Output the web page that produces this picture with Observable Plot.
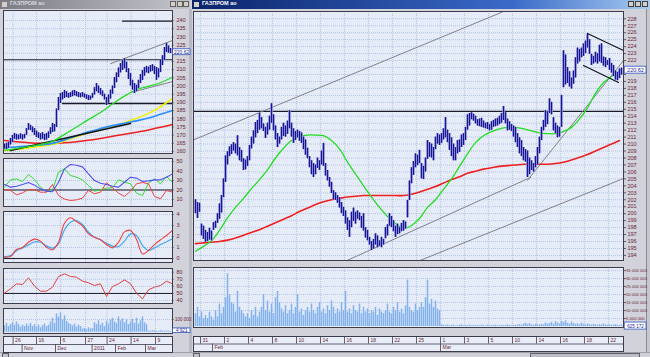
<!DOCTYPE html>
<html><head><meta charset="utf-8">
<script src="https://cdn.jsdelivr.net/npm/d3@7"></script>
<script src="https://cdn.jsdelivr.net/npm/@observablehq/plot@0.6"></script>
<style>
html,body{margin:0;padding:0;width:650px;height:357px;overflow:hidden;background:#d4d4dc;}
#root{position:relative;width:650px;height:357px;overflow:hidden;background:#d2d2da;font-family:'Liberation Sans',Arial,sans-serif;}
#root svg{overflow:visible;}
</style></head><body><div id="root"></div>
<script>
// ---------- RIGHT WINDOW DATA (intraday bars, ГАЗПРОМ ао) ----------
const hi = [202.0,201.6,201.5,198.5,198.2,197.6,197.3,197.9,197.5,198.7,
198.9,200.0,201.4,202.6,205.0,208.3,208.9,209.6,209.9,210.2,
210.0,211.2,209.5,209.1,207.9,207.7,208.2,209.8,211.0,211.9,
213.1,213.4,214.4,213.8,212.9,212.4,213.0,214.0,215.8,214.2,
212.6,211.5,211.0,212.4,213.0,212.6,213.3,214.8,213.0,212.2,
211.8,212.0,211.8,
211.6,211.0,210.6,209.4,208.2,207.6,207.2,207.0,208.0,207.6,
209.0,210.1,207.2,206.2,205.2,204.5,203.3,203.0,202.6,202.3,
201.6,200.9,200.4,199.4,199.0,200.2,200.8,200.2,200.4,200.1,
199.6,200.0,198.0,197.6,196.6,196.0,196.3,197.1,196.8,196.1,
196.6,196.3,198.0,198.4,200.0,199.6,199.0,198.2,198.5,198.0,
198.6,199.0,198.8,201.9,204.7,
206.6,207.5,208.6,208.4,209.1,207.2,206.8,208.0,210.5,210.2,
210.0,209.5,211.0,211.5,211.3,211.5,212.2,213.8,212.0,211.5,
210.9,210.0,209.5,210.5,210.6,211.3,211.5,212.4,214.2,214.4,
214.5,214.3,214.0,213.5,213.6,213.7,213.3,213.0,213.1,212.8,
213.2,213.4,213.6,213.7,214.0,214.4,215.4,214.5,213.6,213.2,
212.8,212.6,212.4,211.5,210.9,210.5,209.5,209.2,209.0,208.0,
207.6,207.2,208.2,209.5,211.0,212.4,213.4,214.8,214.6,216.5,
216.0,213.8,213.0,212.6,212.4,217.0,223.4,222.8,221.0,220.4,
219.5,220.5,222.4,223.8,223.6,223.8,224.4,224.8,225.8,225.0,
222.9,222.6,223.2,223.0,224.2,224.4,222.5,222.4,222.0,222.3,
221.6,221.3,220.5,220.3,220.8,220.9];
const lo = [200.0,199.3,200.2,196.8,196.3,195.9,196.0,196.2,196.1,197.6,
197.9,198.6,199.2,200.1,202.3,204.5,207.0,208.2,208.5,209.0,
208.6,208.3,207.6,207.4,206.2,206.3,206.8,207.6,209.3,210.0,
210.9,211.5,212.0,212.2,211.8,210.8,211.3,212.0,213.0,211.9,
210.6,209.5,210.0,210.6,211.1,211.0,211.4,212.2,211.0,210.1,
210.5,210.9,210.4,
210.1,209.2,208.4,207.9,206.6,205.6,205.2,205.6,206.5,206.2,
207.0,206.8,205.4,204.7,203.8,202.9,202.0,201.9,201.5,200.8,
200.0,199.6,198.5,197.6,196.6,198.0,198.9,198.5,199.2,199.0,
197.9,197.5,196.5,196.1,195.5,194.7,194.9,195.5,195.1,195.3,
195.1,195.5,196.4,196.8,198.2,198.0,197.4,196.6,197.0,197.1,
197.4,197.5,197.8,199.4,201.9,
204.3,205.5,206.6,206.9,207.2,205.0,204.9,206.0,207.8,208.1,
208.0,207.6,209.2,210.0,209.8,210.1,210.6,210.9,210.2,209.1,
208.2,207.6,207.6,208.6,208.8,209.5,209.8,210.5,212.0,212.6,
213.5,213.3,212.9,212.6,212.5,212.4,212.3,212.2,212.1,211.9,
212.0,212.4,212.5,212.6,212.8,213.0,213.4,212.9,211.9,212.0,
211.8,211.0,210.2,209.5,208.6,208.2,207.6,207.4,205.2,205.6,
206.2,206.0,206.6,207.0,208.6,210.5,211.9,212.4,212.8,214.4,
214.2,211.9,211.5,210.9,211.0,212.4,218.1,218.5,218.7,218.2,
217.9,218.6,219.5,221.5,221.8,222.4,222.6,223.0,223.8,222.9,
221.3,221.5,221.7,221.5,221.8,221.6,221.2,221.0,221.3,220.6,
220.2,219.7,219.2,219.1,219.4,219.9];
// moving averages, one value every 4 bars
const maStep = 4;
const maGreen = [194.6,195.3,196.1,197.6,199.4,200.9,202.2,203.6,204.9,206.3,
208.0,209.4,210.5,211.1,211.3,211.3,211.2,210.5,209.3,207.4,
205.7,204.0,202.4,200.9,199.6,198.6,197.9,198.3,199.3,200.9,
202.0,203.5,205.0,206.8,208.6,210.2,211.2,211.8,212.2,212.4,
212.4,212.2,211.9,211.6,211.5,211.5,211.8,212.4,213.6,215.2,
217.3,218.8,219.7,220.5];
const maRed = [195.7,195.8,195.9,196.0,196.2,196.5,196.9,197.3,197.7,198.2,
198.7,199.2,199.7,200.3,200.8,201.3,201.7,202.0,202.2,202.4,
202.5,202.6,202.6,202.6,202.6,202.6,202.6,202.8,203.1,203.5,
203.9,204.4,204.9,205.3,205.8,206.1,206.4,206.6,206.8,206.9,
207.0,207.1,207.1,207.1,207.1,207.2,207.4,207.7,208.1,208.5,
209.0,209.5,210.0,210.5];
// volume, millions
const volume = [8,12,6,9,5, 7,5,9,6,4, 10,6,14,8,12, 18,33,20,15,
14,9,22,12,10,8, 6,8,5,10,7,12,6,9, 12,20,10,16,9,14,8, 18,22,15,11,9,13,8,
10,14,8,12,20,9,11,7,10,12, 9,14,10,8,12,15,9,11,8,13, 10,16,12,8,11,9,15,10,22,9,
11,8,13,10,9,14,8,12,9,11, 8,10,9,12,7,11,9,8,10,14,9,8,
12,10,15,9,11,8,13,29,12,10,9,14, 10,12,15,12,18,29,14,17,12,16,11,10,
1.2,0.8,0.6,1.0,0.5,0.7,0.9,0.4,0.6,0.8,1.1,0.5,0.7,0.6,0.9,0.5,0.8,0.6,
0.7,0.5,0.9,0.6,0.4,0.8,0.6,0.5,0.7,0.9,0.6,0.5,0.8,0.6,0.7,1.0,0.6,0.5,0.8,0.7,
0.9,1.2,0.8,1.5,2.0,1.2,1.8,1.0,0.8,1.4,1.1,0.9,1.3,1.0,2.2,1.5,1.8,2.6,1.4,3.0,
2.2,1.6,3.2,2.4,3.6,2.0,1.5,2.8,1.9,1.4,1.7,1.2,2.1,1.4,1.0,1.6,1.2,0.9,1.3,1.1,
0.8,1.2,0.9,1.5,1.0,0.8,1.1,0.7,0.9,1.2,0.8,0.6,1.0];
const lastPrice = 220.62;
const lastVolumeLabel = "625 172";
const levelLine = 214.7;
// trend lines [bar index, price]
const upperTrend = [[-1,210.6],[154,229.05]];
const lowerTrendA = [[76,193.3],[167.5,205.2]];
const lowerTrendB = [[112.5,193.3],[214,205.05]];
const steepTrend = [[166,204.8],[214,222.0]];
const channelTop = [[196,225.9],[214,223.45]];
const channelBottom = [[194,221.3],[211.5,218.85]];
const priceTicks = d3.range(194,229);
const priceLabelTicks = priceTicks.filter(t => Math.abs(t - lastPrice) > 0.9);
const volTicks = [5,10,15,20,25,30,35];
const dayStart = [2.5,14.5,26.5,38.5,50.5,62.5,74.5,86.5,98.5,110.5,122.5,134.5,146.5,158.5,170.5,182.5,194.5,206.5];
const dayLabels = ["31","2","4","8","10","14","16","18","22","25","1","3","5","10","14","16","18","22"];
const monthStart = [8.5,122.5];
const monthLabels = ["Feb","Mar"];

// ---------- LEFT WINDOW DATA (daily) ----------
const hiL = [164.5,165.0,165.5,168.0,169.8,171.0,170.5,170.0,170.8,170.2,
170.5,174.0,177.1,176.0,175.0,174.0,172.5,171.5,170.8,171.5,
170.5,171.0,172.0,174.5,177.1,176.5,186.0,193.0,195.4,196.0,
197.3,196.5,195.5,196.0,197.0,197.3,196.5,196.0,195.5,196.0,
195.2,194.6,194.2,193.8,195.5,199.0,201.5,200.0,198.5,197.0,
195.0,193.0,194.5,197.5,200.0,205.2,208.0,211.0,213.7,215.5,
216.8,214.5,210.5,207.6,203.5,201.5,200.5,203.5,207.0,209.5,
211.3,212.0,211.5,212.5,213.0,212.0,211.3,210.5,215.6,218.5,
223.5,226.0,224.5,222.9];
const loL = [161.5,161.2,162.0,164.0,165.5,167.5,167.0,167.2,167.6,167.0,
167.8,170.0,173.0,172.8,171.5,169.8,168.5,168.0,167.0,167.5,
166.7,167.0,168.0,170.5,171.6,172.0,174.7,185.0,189.3,191.5,
192.4,193.0,192.5,193.0,193.5,194.0,193.5,193.0,192.8,193.2,
192.6,191.8,191.1,191.4,192.5,194.5,196.5,195.4,194.5,193.5,
191.5,188.1,189.5,192.0,195.0,198.5,202.0,205.2,208.0,209.5,
210.5,208.2,204.0,200.0,197.5,195.4,196.5,198.5,201.5,203.4,
206.0,208.0,207.5,208.5,209.0,207.0,203.4,205.0,208.2,212.5,
215.6,220.5,220.0,219.8];
const maStepL = 6;
const greenL = [160.8,161.8,163.0,164.3,166.2,170.5,175.0,179.5,183.8,189.0,193.8,197.8,199.8,202.0,205.5];
const yellowL = [160.5,161.3,162.2,163.2,164.5,166.5,169.0,171.5,173.5,175.3,177.5,180.3,183.3,187.3,192.4];
const blueL = [162.4,162.8,163.3,164.0,165.0,167.0,169.5,172.0,174.0,175.8,177.3,178.7,180.5,182.7,185.0];
const redL = [166.7,166.0,165.4,165.0,164.9,165.3,166.0,166.9,168.0,169.3,170.5,171.8,173.2,174.8,176.5];
const levelL = 216.0;
const supportL = [[29,189.3],[84,189.3]];
const topLineL = [[59,239.6],[84,239.6]];
const trendL = [[3,160.6],[63,177.1]];
const channelUpL = [[53,213.6],[84,227.8]];
const channelLowL = [[63,196.0],[84,202.7]];
const volL = [50,70,45,60,75,55,80,60,40,55,45,65,50,70,45,60,40,55,35,50,
65,45,55,80,110,70,145,120,150,95,130,85,70,60,50,65,40,55,45,25,
30,20,35,25,30,75,60,90,55,70,45,85,65,95,110,80,70,120,90,105,
75,95,60,80,100,70,110,65,90,120,75,60,10,8,12,10,8,6,12,9,7,10,8,6];
// indicators, one value every 3 bars
const indStep = 3;
const dmiBlue = [25.8,23.0,24.0,25.8,27.9,25.1,21.2,18.8,18.1,28.2,42.3,46.8,46.1,44.4,37.0,30.0,27.2,25.8,24.0,23.0,28.2,33.5,32.5,29.0,29.6,30.7,30.7,33.5,37.0];
const dmiGreen = [23.0,30.7,31.7,29.0,36.3,31.1,23.0,18.1,20.2,38.8,42.3,35.3,33.5,30.7,24.7,18.8,20.2,22.0,22.3,30.7,28.2,26.5,16.7,14.2,27.2,31.7,26.5,34.2,28.2];
const dmiRed = [20.5,19.5,14.9,17.0,20.5,20.2,17.7,17.7,25.8,14.2,10.4,8.9,9.6,11.4,19.5,16.0,17.7,27.5,22.3,16.7,13.2,18.8,26.5,27.9,26.5,13.2,10.7,19.5,17.7];
const macdRed = [0.12,0.18,0.82,1.0,1.48,1.76,1.58,1.03,0.79,1.48,3.21,3.70,3.36,2.97,2.24,1.94,1.70,1.27,0.97,1.48,2.42,2.55,1.76,0.42,0.73,1.27,1.70,2.09,2.55];
const macdBlue = [0.18,0.27,0.70,0.97,1.24,1.52,1.48,1.15,0.94,1.33,2.61,3.30,3.45,3.09,2.39,1.94,1.70,1.39,1.12,1.09,1.58,2.24,2.09,1.18,0.73,0.97,1.27,1.52,1.79];
const rsi = [50.4,56.5,63.6,62.6,72.0,60.3,53.2,53.2,58.9,73.9,77.7,73.9,73.0,67.3,65.0,61.2,63.6,45.7,59.8,63.6,69.2,63.6,50.4,42.4,55.1,58.9,61.2,67.3,63.6];
const leftPriceTicks = d3.range(160,241,5);
const leftPriceLabelTicks = leftPriceTicks.filter(t => Math.abs(t - lastPrice) > 2.5);
const dmiTicks = [10,20,30,40,50];
const macdTicks = [0,1,2,3,4];
const rsiTicks = [40,50,60,70,80];
const leftDayPos = [4.3,16,28,40.5,51.3,63.3,75.5];
const leftDayLabels = ["26","16","6","27","24","14","9"];
const leftMonthPos = [8.8,25.5,43.8,55.5,70.5];
const leftMonthLabels = ["Nov","Dec","2011","Feb","Mar"];
const leftVolLabel = "4 921";

// ---------- DRAWING ----------
const root = document.getElementById("root");
const FONT = "'Liberation Sans', Arial, sans-serif";
const BG = "#e6ecf7", GRID = "#b3c4e4", FRAME = "#3c3c4c", LBL = "#6a2436";
function div(style, text){const d=document.createElement("div");d.style.cssText="position:absolute;"+style;if(text)d.textContent=text;root.appendChild(d);return d;}
function panel(o){
  const svg = Plot.plot({width:o.width,height:o.height,marginTop:o.mt,marginBottom:o.mb,marginLeft:o.ml,marginRight:o.mr,
    x:{domain:o.xdom,axis:null}, y:{domain:o.ydom,axis:null},
    style:{background:"transparent",fontFamily:FONT,fontSize:"5.5px",color:LBL,overflow:"visible"},
    marks:o.marks});
  svg.style.position="absolute";svg.style.left=o.left+"px";svg.style.top=o.top+"px";svg.style.maxWidth="none";
  root.appendChild(svg);return svg;
}
const seg = (pts, stroke, w=1) => Plot.line(pts,{x:d=>d[0],y:d=>d[1],stroke,strokeWidth:w});
const yLabels = (ticks, labelTicks, xmax, tick, fmt=d=>String(d), fs=5.5, dx=4) => [
  Plot.ruleY(ticks,{x1:xmax,x2:xmax+tick,stroke:FRAME,strokeWidth:0.8}),
  Plot.text(labelTicks,{frameAnchor:"right",y:d=>d,text:fmt,dx,textAnchor:"start",fill:LBL,fontSize:fs})
];
const gridY = t => Plot.ruleY(t,{stroke:GRID,strokeDasharray:"1,1"});
const gridX = t => Plot.ruleX(t,{stroke:GRID,strokeDasharray:"1,1"});

// windows chrome
div("left:0;top:0;width:190px;height:9px;background:linear-gradient(to right,#7c7c84,#c4c4cc);");
div("left:2px;top:2px;width:5px;height:5px;background:#d4d0c8;");
div("left:10px;top:0;height:9px;line-height:9px;font:bold 5.5px "+FONT+";color:#d8d8e0;","ГАЗПРОМ ао");
div("left:192px;top:0;width:458px;height:9px;background:linear-gradient(to right,#0a246a,#3a6ac8 70%,#a6caf0);");
div("left:194px;top:2px;width:5px;height:5px;background:#d4d0c8;");
div("left:202px;top:0;height:9px;line-height:9px;font:bold 5.5px "+FONT+";color:#ffffff;","ГАЗПРОМ ао");
for (const x of [170,177,183]) div(`left:${x}px;top:1px;width:6px;height:6px;background:#d4d0c8;border:0.5px solid #606060;box-sizing:border-box;`);
for (const x of [628,635,642]) div(`left:${x}px;top:1px;width:6px;height:6px;background:#d4d0c8;border:0.5px solid #404040;box-sizing:border-box;`);
div("left:189px;top:9px;width:3px;height:343px;background:#b8b8c2;");
div("left:646px;top:9px;width:4px;height:343px;background:#c6c6ce;border-left:1px solid #8a8a94;");
div("left:0;top:352px;width:650px;height:5px;background:#d0d0d8;border-top:1px solid #a0a0a8;");
div("left:2px;top:353px;width:5px;height:4px;background:#c0c0c8;border:0.5px solid #606068;");
div("left:193px;top:353px;width:5px;height:4px;background:#c0c0c8;border:0.5px solid #606068;");
div("left:530px;top:353px;width:108px;height:4px;background:#bcbcc6;border:0.5px solid #606068;");

// RIGHT: main price panel
const bars = hi.map((h,i)=>({i,h,l:lo[i]}));
const ma = maGreen.map((g,k)=>({i:k*maStep,g,r:maRed[k]}));
panel({left:190,top:9,width:460,height:252,mt:2,mb:1,ml:3,mr:27,xdom:[-1,214],ydom:[193.27,229.05],marks:[
  Plot.frame({fill:BG}),
  gridY(priceTicks), gridX(dayStart),
  Plot.ruleY([levelLine],{stroke:"#1a1a28",strokeWidth:1.1}),
  seg(upperTrend,"#80808a"), seg(lowerTrendA,"#80808a"), seg(lowerTrendB,"#80808a"), seg(steepTrend,"#80808a"),
  Plot.line(ma,{x:"i",y:"r",stroke:"#ee2020",strokeWidth:1.6,curve:"catmull-rom"}),
  Plot.line(ma,{x:"i",y:"g",stroke:"#22dd22",strokeWidth:1.3,curve:"catmull-rom"}),
  Plot.ruleX(bars,{x:"i",y1:"l",y2:"h",stroke:"#9090dc",strokeWidth:2.6}),
  Plot.ruleX(bars,{x:"i",y1:"l",y2:"h",stroke:"#16168e",strokeWidth:1.1}),
  seg(channelTop,"#101018",1.1), seg(channelBottom,"#101018",1.1),
  Plot.frame({stroke:FRAME}),
  ...yLabels(priceTicks,priceLabelTicks,214,1.5),
  Plot.rect([lastPrice],{x1:214.6,x2:225.5,y1:d=>d-0.5,y2:d=>d+0.5,fill:"white",stroke:"#3050c0",strokeWidth:0.8}),
  Plot.text([lastPrice],{x:220,y:d=>d,text:d=>d.toFixed(2),fill:"#1c1c9c"})
]});

// RIGHT: volume panel
const fmtVol = d => d3.format(",")(d*1e6).replace(/,/g," ");
panel({left:190,top:265,width:460,height:63,mt:2,mb:1,ml:3,mr:27,xdom:[-1,214],ydom:[-0.6,36.9],marks:[
  Plot.frame({fill:BG}),
  gridY(volTicks), gridX(dayStart),
  Plot.ruleX(volume,{x:(d,i)=>i,y1:0,y2:d=>d,stroke:"#82b2ee",strokeWidth:1.5}),
  Plot.frame({stroke:FRAME}),
  ...yLabels(volTicks,volTicks,214,1.5,fmtVol,4.2,2.5),
  Plot.rect([0.3],{x1:214.6,x2:225.5,y1:d=>d-2.2,y2:d=>d+2.2,fill:"white",stroke:"#3050c0",strokeWidth:0.8}),
  Plot.text([0.3],{x:220,y:d=>d,text:()=>lastVolumeLabel,fill:"#1c1c9c",fontSize:4.6})
]});

// RIGHT: date strip
panel({left:190,top:336,width:460,height:15,mt:0,mb:0,ml:3,mr:27,xdom:[-1,214],ydom:[2,0],marks:[
  Plot.frame({fill:"#e8edf8",stroke:FRAME}),
  Plot.ruleY([1],{stroke:FRAME,strokeWidth:0.8}),
  Plot.ruleX(dayStart,{y1:0,y2:1,stroke:FRAME,strokeWidth:0.8}),
  Plot.text(dayLabels,{x:(d,k)=>dayStart[k],y:0.5,text:d=>d,dx:2,textAnchor:"start",fill:LBL,fontSize:5}),
  Plot.ruleX(monthStart,{y1:1,y2:2,stroke:FRAME,strokeWidth:0.8}),
  Plot.text(monthLabels,{x:(d,k)=>monthStart[k],y:1.5,text:d=>d,dx:2,textAnchor:"start",fill:LBL,fontSize:5})
]});

// LEFT: main price panel
const barsL = hiL.map((h,j)=>({j,h,l:loL[j]}));
const maL = greenL.map((g,k)=>({j:k*maStepL,g,y:yellowL[k],b:blueL[k],r:redL[k]}));
const LX = [-0.5,84];
panel({left:0,top:9,width:190,height:145,mt:1,mb:1,ml:3,mr:18,xdom:LX,ydom:[158.8,246.1],marks:[
  Plot.frame({fill:BG}),
  gridY(leftPriceTicks), gridX(leftDayPos),
  Plot.ruleY([levelL],{stroke:"#1a1a28",strokeWidth:1.1}),
  seg(supportL,"#1a1a28",1.4), seg(topLineL,"#1a1a28",1.1),
  seg(channelUpL,"#80808a"), seg(channelLowL,"#80808a"),
  Plot.line(maL,{x:"j",y:"r",stroke:"#ee2020",strokeWidth:1.5,curve:"catmull-rom"}),
  Plot.line(maL,{x:"j",y:"y",stroke:"#f2f200",strokeWidth:1.6,curve:"catmull-rom"}),
  Plot.line(maL,{x:"j",y:"b",stroke:"#2a8cff",strokeWidth:1.6,curve:"catmull-rom"}),
  seg(trendL,"#141414",1.5),
  Plot.line(maL,{x:"j",y:"g",stroke:"#22dd22",strokeWidth:1.3,curve:"catmull-rom"}),
  Plot.ruleX(barsL,{x:"j",y1:"l",y2:"h",stroke:"#9090dc",strokeWidth:2.4}),
  Plot.ruleX(barsL,{x:"j",y1:"l",y2:"h",stroke:"#16168e",strokeWidth:1.1}),
  Plot.frame({stroke:FRAME}),
  ...yLabels(leftPriceTicks,leftPriceLabelTicks,84,0.8),
  Plot.rect([lastPrice],{x1:84.3,x2:93,y1:d=>d-1.8,y2:d=>d+1.8,fill:"white",stroke:"#3050c0",strokeWidth:0.8}),
  Plot.text([lastPrice],{x:88.6,y:d=>d,text:d=>d.toFixed(2),fill:"#1c1c9c",fontSize:5})
]});

// LEFT: DMI panel
const ind = dmiBlue.map((b,k)=>({j:k*indStep,b,g:dmiGreen[k],r:dmiRed[k],mr:macdRed[k],mb:macdBlue[k],rsi:rsi[k]}));
panel({left:0,top:156,width:190,height:52,mt:2,mb:2,ml:3,mr:18,xdom:LX,ydom:[2.6,53.2],marks:[
  Plot.frame({fill:BG}), gridY(dmiTicks), gridX(leftDayPos),
  Plot.ruleY([20],{stroke:"#1a1a28"}),
  Plot.line(ind,{x:"j",y:"g",stroke:"#30dd30",strokeWidth:1}),
  Plot.line(ind,{x:"j",y:"r",stroke:"#f04040",strokeWidth:1}),
  Plot.line(ind,{x:"j",y:"b",stroke:"#5050ee",strokeWidth:1.1}),
  Plot.frame({stroke:FRAME}), ...yLabels(dmiTicks,dmiTicks,84,0.8)
]});
// LEFT: MACD panel
panel({left:0,top:209,width:190,height:55,mt:2,mb:2,ml:3,mr:18,xdom:LX,ydom:[-0.36,4.27],marks:[
  Plot.frame({fill:BG}), gridY(macdTicks), gridX(leftDayPos),
  Plot.ruleY([0],{stroke:"#1a1a28"}),
  Plot.line(ind,{x:"j",y:"mb",stroke:"#40a8f0",strokeWidth:1.2,curve:"catmull-rom"}),
  Plot.line(ind,{x:"j",y:"mr",stroke:"#f04040",strokeWidth:1.1,curve:"catmull-rom"}),
  Plot.frame({stroke:FRAME}), ...yLabels(macdTicks,macdTicks,84,0.8)
]});
// LEFT: RSI panel
panel({left:0,top:266,width:190,height:39,mt:2,mb:2,ml:3,mr:18,xdom:LX,ydom:[35.8,85.2],marks:[
  Plot.frame({fill:BG}), gridY(rsiTicks), gridX(leftDayPos),
  Plot.ruleY([50],{stroke:"#1a1a28"}),
  Plot.line(ind,{x:"j",y:"rsi",stroke:"#e04040",strokeWidth:1}),
  Plot.frame({stroke:FRAME}), ...yLabels(rsiTicks,rsiTicks,84,0.8)
]});
// LEFT: volume panel
panel({left:0,top:306,width:190,height:29,mt:2,mb:2,ml:3,mr:18,xdom:LX,ydom:[-10,186.6],marks:[
  Plot.frame({fill:BG}), gridY([100]), gridX(leftDayPos),
  Plot.ruleX(volL,{x:(d,j)=>j,y1:0,y2:d=>d,stroke:"#82b2ee",strokeWidth:1.5}),
  Plot.frame({stroke:FRAME}),
  ...yLabels([100],[100],84,0.8,d=>d3.format(",")(d*1000).replace(/,/g," "),4.5,2.5),
  Plot.rect([12],{x1:84.3,x2:93,y1:d=>d-18,y2:d=>d+18,fill:"white",stroke:"#3050c0",strokeWidth:0.8}),
  Plot.text([12],{x:88.6,y:d=>d,text:()=>leftVolLabel,fill:"#1c1c9c",fontSize:4.6})
]});
// LEFT: date strip
panel({left:0,top:336,width:190,height:16,mt:0,mb:0,ml:3,mr:18,xdom:LX,ydom:[2,0],marks:[
  Plot.frame({fill:"#e8edf8",stroke:FRAME}),
  Plot.ruleY([1],{stroke:FRAME,strokeWidth:0.8}),
  Plot.ruleX(leftDayPos,{y1:0,y2:1,stroke:FRAME,strokeWidth:0.8}),
  Plot.text(leftDayLabels,{x:(d,k)=>leftDayPos[k],y:0.5,text:d=>d,dx:2,textAnchor:"start",fill:LBL,fontSize:5}),
  Plot.ruleX(leftMonthPos,{y1:1,y2:2,stroke:FRAME,strokeWidth:0.8}),
  Plot.text(leftMonthLabels,{x:(d,k)=>leftMonthPos[k],y:1.5,text:d=>d,dx:2,textAnchor:"start",fill:LBL,fontSize:5})
]});
</script></body></html>
